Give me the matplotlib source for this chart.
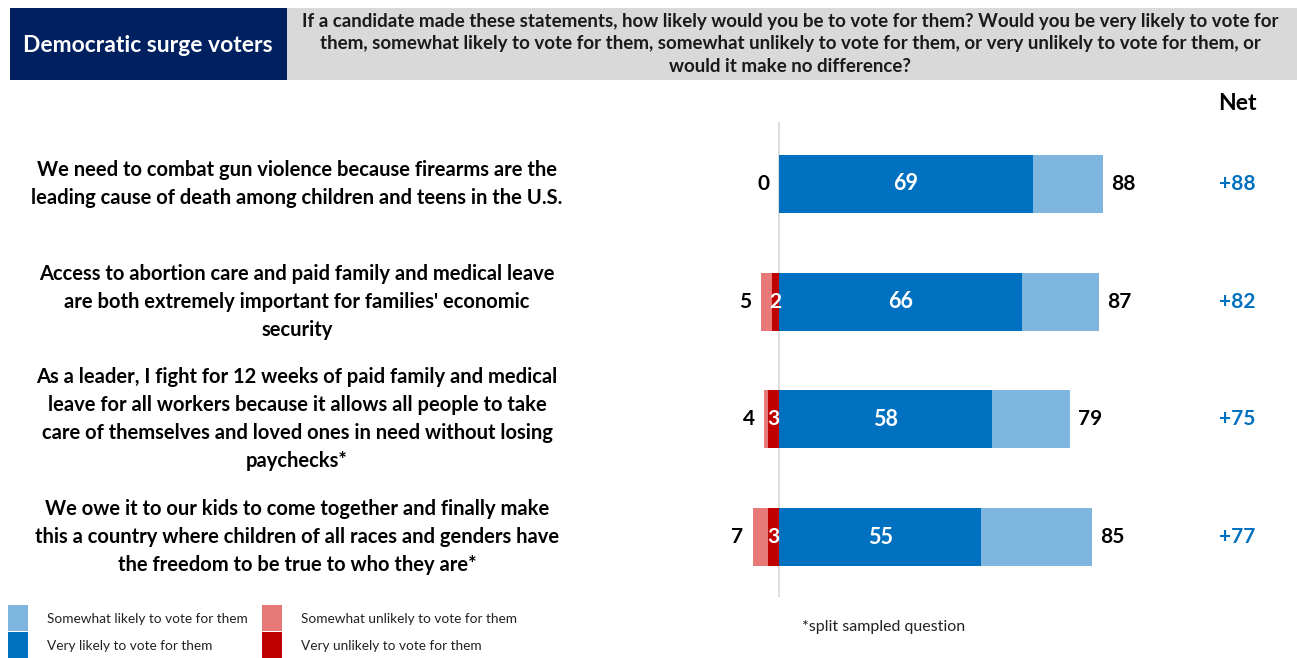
import matplotlib.pyplot as plt
import matplotlib.patches as patches
import numpy as np

plt.rcParams["font.family"] = ["Lato", "DejaVu Sans"]

# Survey results, one entry per statement (percent)
statements = [
    "We need to combat gun violence because firearms are the\nleading cause of death among children and teens in the U.S.",
    "Access to abortion care and paid family and medical leave\nare both extremely important for families' economic\nsecurity",
    "As a leader, I fight for 12 weeks of paid family and medical\nleave for all workers because it allows all people to take\ncare of themselves and loved ones in need without losing\npaychecks*",
    "We owe it to our kids to come together and finally make\nthis a country where children of all races and genders have\nthe freedom to be true to who they are*",
]
very_likely = [69, 66, 58, 55]
somewhat_likely = [19, 21, 21, 30]
very_unlikely = [0, 2, 3, 3]
somewhat_unlikely = [0, 3, 1, 4]
total_likely = [88, 87, 79, 85]
total_unlikely = [0, 5, 4, 7]
net = ["+88", "+82", "+75", "+77"]

dark_blue = "#0070C0"
light_blue = "#7FB6DF"
dark_red = "#C00000"
light_red = "#E77A78"

W, H = 1297, 658
fig = plt.figure(figsize=(W / 100, H / 100), dpi=100)

# background axes in pixel units for header, legend and notes
bg = fig.add_axes([0, 0, 1, 1])
bg.set_xlim(0, W)
bg.set_ylim(H, 0)
bg.axis("off")

bg.add_patch(patches.Rectangle((10, 8), 277, 72, facecolor="#002060", edgecolor="none"))
bg.add_patch(patches.Rectangle((287, 8), 1010, 72, facecolor="#D9D9D9", edgecolor="none"))
bg.text(148, 45, "Democratic surge voters", color="white", fontsize=16.5, fontweight="bold",
        ha="center", va="center")
bg.text(790, 44,
        "If a candidate made these statements, how likely would you be to vote for them? Would you be very likely to vote for\n"
        "them, somewhat likely to vote for them, somewhat unlikely to vote for them, or very unlikely to vote for them, or\n"
        "would it make no difference?",
        color="#1a1a1a", fontsize=13.5, fontweight="bold", ha="center", va="center", linespacing=1.4)

bg.text(1237, 103, "Net", fontsize=16.5, fontweight="bold", ha="center", va="center")
bg.text(884, 627, "*split sampled question", fontsize=11.5, ha="center", va="center", color="#222222")

# legend
legend_items = [
    (8, 605, light_blue, "Somewhat likely to vote for them"),
    (8, 632, dark_blue, "Very likely to vote for them"),
    (262, 605, light_red, "Somewhat unlikely to vote for them"),
    (262, 632, dark_red, "Very unlikely to vote for them"),
]
for x0, y0, col, lab in legend_items:
    bg.add_patch(patches.Rectangle((x0, y0), 20, 26, facecolor=col, edgecolor="none"))
    bg.text(x0 + 39, y0 + 14, lab, fontsize=9.8, va="center", ha="left", color="#222222")

# bar axes: zero at x=779 px, 3.68 px per point
px_per_unit = 3.68
ax_left, ax_right = 700, 1180
ax_top, ax_bottom = 122, 597
ax = fig.add_axes([ax_left / W, 1 - ax_bottom / H, (ax_right - ax_left) / W, (ax_bottom - ax_top) / H])
x0 = -(779 - ax_left) / px_per_unit
ax.set_xlim(x0, x0 + (ax_right - ax_left) / px_per_unit)
row_px = 117.7
ax.set_ylim(3 + (ax_bottom - 537) / row_px, -(184 - ax_top) / row_px)
ax.axis("off")

y = np.arange(len(statements))
vl = np.array(very_likely)
sl = np.array(somewhat_likely)
vu = np.array(very_unlikely)
su = np.array(somewhat_unlikely)
h = 0.495

ax.axvline(0, color="#D9D9D9", lw=1.2, zorder=0)
ax.barh(y, vl, height=h, color=dark_blue, edgecolor="none", zorder=2)
ax.barh(y, sl, left=vl, height=h, color=light_blue, edgecolor="none", zorder=2)
ax.barh(y, -vu, height=h, color=dark_red, edgecolor="none", zorder=2)
ax.barh(y, -su, left=-vu, height=h, color=light_red, edgecolor="none", zorder=2)

for i in range(len(statements)):
    ax.text(vl[i] / 2, y[i], str(vl[i]), color="white", fontsize=15.5, fontweight="bold",
            ha="center", va="center", zorder=3)
    if vu[i] > 0:
        ax.text(-vu[i] / 2, y[i], str(vu[i]), color="white", fontsize=15, fontweight="bold",
                ha="center", va="center", zorder=3)
    ax.annotate(str(total_likely[i]), (vl[i] + sl[i], y[i]), xytext=(6, 0), textcoords="offset points",
                fontsize=15, fontweight="bold", ha="left", va="center")
    ax.annotate(str(total_unlikely[i]), (-(vu[i] + su[i]), y[i]), xytext=(-7, 0), textcoords="offset points",
                fontsize=15, fontweight="bold", ha="right", va="center")
    ax.annotate(net[i], (1237, y[i]), xycoords=("figure pixels", "data"),
                fontsize=15, fontweight="bold", color=dark_blue, ha="center", va="center")
    ax.annotate(statements[i], (297, y[i]), xycoords=("figure pixels", "data"),
                fontsize=14.5, fontweight="bold", ha="center", va="center", linespacing=1.5,
                annotation_clip=False)

fig.savefig("out.png", dpi=100)
